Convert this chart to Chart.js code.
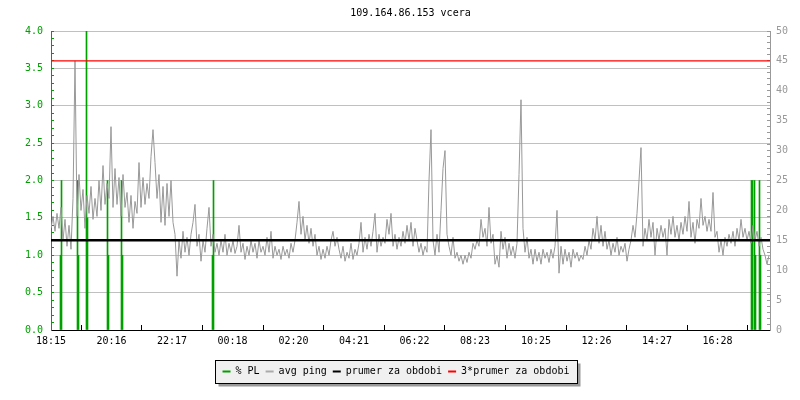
<!DOCTYPE html>
<html>
<head>
<meta charset="utf-8">
<script src="https://cdn.jsdelivr.net/npm/chart.js@4/dist/chart.umd.min.js"></script>
<style>
html,body{margin:0;padding:0;background:#fff;}
#wrap{width:800px;height:400px;}
</style>
</head>
<body>
<div id="wrap"><canvas id="c" width="800" height="400"></canvas></div>
<script>
// ---- data ----
const titleText = '109.164.86.153 vcera';
const tickMinutes = [0, 121, 242, 363, 485, 606, 727, 848, 970, 1091, 1212, 1333];
const tickLabels = ['18:15','20:16','22:17','00:18','02:20','04:21','06:22','08:23','10:25','12:26','14:27','16:28'];
const sampleStepMin = 4;
// avg ping [ms], one sample every 4 minutes from 18:15
const pingMs = [
  17,19,16.5,19.5,17,20.5,15,18.5,14,17.5,13.5,22,
  45,19,26,20,23.5,17,22.5,19.5,24,18.5,22,19,
  25,20,27.5,21,24.5,22,34,20.5,27,21,25.5,19,
  26,20.5,23,18,22.5,17,21.5,19.5,28,20.5,25.5,21,
  24.5,22,29,33.5,28,22,26,18,24,17.5,24.5,19,
  25,18,16,9,15,12,16.5,13,15.5,12.5,16,18,

  21,14,16,11.5,15,13,17,20.5,14,16,13,14.5,
  12.5,15,13,16,12.5,14.5,13,15,12.8,14,17.5,13,
  14.5,11.8,14,12.5,15,13,14.5,12,15,13,14,12.5,
  15.5,13,16.5,12,14,12.5,13.5,11.8,14,12.5,13.5,12,
  14.5,13,15,18,21.5,16,19,15,17.5,14.5,17,14,
  16,12.5,14,11.8,13.5,12,14,12.5,15,16.5,14,15.5,

  13.5,12,14,11.5,13,12,14.5,11.8,13.5,12.5,14.5,18,
  13,15.5,13.5,16,14,16.5,19.5,13,16,14,15.5,14.5,
  18.5,16,19.5,14,16,13.5,15.5,14,16.5,14.5,17.5,15,
  18,14,17,15,13,14.5,12.5,14,13,25,33.5,15,
  12.5,16,13,20,27,30,16,14,12.5,15.5,12,13,
  11.5,12.5,11,12.5,11.3,13,12,14.5,13.5,15,14,18.5,

  15.5,17,14,20.5,14.5,16,11,12.5,10.5,16.5,13.5,15.5,
  12,14.5,12.5,14,12,14.5,26,38.5,17,13,15.5,12,
  13.5,11,13.5,11.5,13,11,13.5,12,13,11.3,13.5,12,
  14,20,9.5,14,11,13.5,11.5,13,10.5,13.5,12,13,
  11.5,12.5,11.8,14,12.5,15,13.5,17,15,19,14.5,17.5,
  14,16.5,13.5,15,12.5,14.5,13,15.5,12.5,14,13,14.5,

  11.5,13.5,15,17.5,15.5,19.5,25,30.5,14,17,15,18.5,
  15.5,18,12.5,17,15,17.5,15.5,17,12.5,18.5,16,19,
  15.5,17.5,15,18,16,19,16.5,21.5,15.5,18,14.5,18.5,
  17,22,17.5,19,16.5,18.5,16.5,23,15.5,16.5,13,15,
  12.5,15.5,14,16,14.5,16.5,14,17,15,18.5,15.5,17,
  15,16.5,14.5,17.5,15,16.5,14,15.5,13.5,12.5,11,12.5
];
// packet loss [%]
const plMinutes = [19, 21, 53, 55, 71, 73, 113, 115, 141, 143, 323, 325, 1401, 1403, 1407, 1409, 1417, 1419];
const plPercent = [1.0, 2.0, 2.0, 1.0, 4.0, 1.5, 2.0, 1.0, 2.0, 1.0, 1.0, 2.0, 2.0, 2.0, 2.0, 1.0, 2.0, 1.0];
const avgPing = 15;      // prumer za obdobi [ms]
const avgFactor = 3;     // 3*prumer
const periodMin = 1438;

// ---- styles ----
const FONT = 'DejaVu Sans Mono';
const GREEN = '#00a000';
const GRAYLINE = '#999999';
const GRID = '#c0c0c0';
const AXISGRAY = '#999999';

const isHalf = v => Math.abs(v * 2 - Math.round(v * 2)) < 1e-6;

const legendBox = {
  id: 'legendBox',
  beforeDraw(chart) {
    const ctx = chart.ctx;
    ctx.save();
    ctx.fillStyle = '#fff';
    ctx.fillRect(0, 0, chart.width, chart.height);
    const lg = chart.legend;
    if (lg && lg.legendHitBoxes && lg.legendHitBoxes.length) {
      const hb = lg.legendHitBoxes;
      const f = hb[0], l = hb[hb.length - 1];
      const cy = f.top + f.height / 2;
      const x0 = Math.round(f.left - 8) + 0.5;
      const x1 = Math.round(l.left + l.width + 8) + 0.5;
      const y0 = Math.round(cy - 12) + 0.5;
      const y1 = Math.round(cy + 11) + 0.5;
      ctx.fillStyle = '#999';
      ctx.fillRect(x0 + 3, y0 + 3, x1 - x0, y1 - y0);
      ctx.fillStyle = '#f0f0f0';
      ctx.fillRect(x0, y0, x1 - x0, y1 - y0);
      ctx.strokeStyle = '#000';
      ctx.lineWidth = 1;
      ctx.strokeRect(x0, y0, x1 - x0, y1 - y0);
    }
    ctx.restore();
  }
};

const datasets = [
  {
    type: 'bar', label: '% PL', yAxisID: 'yL', order: 4,
    data: plMinutes.map((m, i) => ({x: m, y: plPercent[i]})),
    backgroundColor: GREEN, borderWidth: 0, barThickness: 1, legendColor: GREEN
  },
  {
    type: 'line', label: 'avg ping', yAxisID: 'yR', order: 3,
    data: pingMs.map((v, j) => ({x: j * sampleStepMin, y: v})),
    borderColor: GRAYLINE, backgroundColor: GRAYLINE, borderWidth: 1, pointRadius: 0, tension: 0, legendColor: '#aaaaaa'
  },
  {
    type: 'line', label: 'prumer za obdobi', yAxisID: 'yR', order: 2,
    data: [{x: 0, y: avgPing}, {x: periodMin, y: avgPing}],
    borderColor: '#000', backgroundColor: '#000', borderWidth: 2.6, pointRadius: 0, legendColor: '#000'
  },
  {
    type: 'line', label: '3*prumer za obdobi', yAxisID: 'yR', order: 1,
    data: [{x: 0, y: avgPing * avgFactor}, {x: periodMin, y: avgPing * avgFactor}],
    borderColor: '#ff0000', backgroundColor: '#ff0000', borderWidth: 1.4, pointRadius: 0, legendColor: '#ff0000'
  }
];

new Chart(document.getElementById('c'), {
  type: 'line',
  data: {datasets},
  plugins: [legendBox],
  options: {
    responsive: false,
    animation: false,
    events: [],
    devicePixelRatio: 1,
    layout: {padding: {left: 0, right: 8, top: 0, bottom: 13.5}},
    plugins: {
      tooltip: {enabled: false},
      title: {
        display: true, text: titleText, color: '#000', fullSize: false,
        font: {family: FONT, size: 10, weight: 'normal'},
        padding: {top: 7, bottom: 12}
      },
      legend: {
        position: 'bottom',
        labels: {
          boxWidth: 8, boxHeight: 2, padding: 6, color: '#000',
          font: {family: FONT, size: 10},
          generateLabels: (chart) => chart.data.datasets.map((ds, i) => ({
            text: ds.label, fillStyle: ds.legendColor, strokeStyle: ds.legendColor,
            lineWidth: 0, hidden: false, datasetIndex: i, fontColor: '#000'
          }))
        }
      }
    },
    scales: {
      x: {
        type: 'linear', min: 0, max: periodMin, offset: false,
        afterBuildTicks: s => { s.ticks = tickMinutes.map(v => ({value: v})); },
        afterFit: s => { s.height = 30.5; },
        ticks: {
          autoSkip: false, maxRotation: 0, color: '#000', padding: 10.5,
          font: {family: FONT, size: 10},
          callback: (v, i) => tickLabels[i]
        },
        grid: {drawOnChartArea: false, drawTicks: true, tickLength: -5, tickColor: '#000'},
        border: {color: '#000', width: 1}
      },
      yL: {
        type: 'linear', position: 'left', min: 0, max: 4,
        afterFit: s => { s.width = 51; },
        ticks: {
          stepSize: 0.1, maxTicksLimit: 100, autoSkip: false, color: GREEN, padding: 11,
          font: {family: FONT, size: 10},
          callback: v => isHalf(v) ? Number(v).toFixed(1) : ''
        },
        grid: {
          drawOnChartArea: true, drawTicks: true, tickLength: -3, tickColor: GREEN,
          color: c => (c.tick && isHalf(c.tick.value)) ? GRID : 'rgba(0,0,0,0)'
        },
        border: {color: GREEN, width: 1}
      },
      yR: {
        type: 'linear', position: 'right', min: 0, max: 50,
        afterFit: s => { s.width = 22; },
        ticks: {
          stepSize: 1, maxTicksLimit: 100, autoSkip: false, color: AXISGRAY, padding: 9,
          font: {family: FONT, size: 10},
          callback: v => (Math.round(v) % 5 === 0) ? String(Math.round(v)) : ''
        },
        grid: {drawOnChartArea: false, drawTicks: true, tickLength: -3, tickColor: AXISGRAY},
        border: {color: AXISGRAY, width: 1}
      }
    }
  }
});
</script>
</body>
</html>
